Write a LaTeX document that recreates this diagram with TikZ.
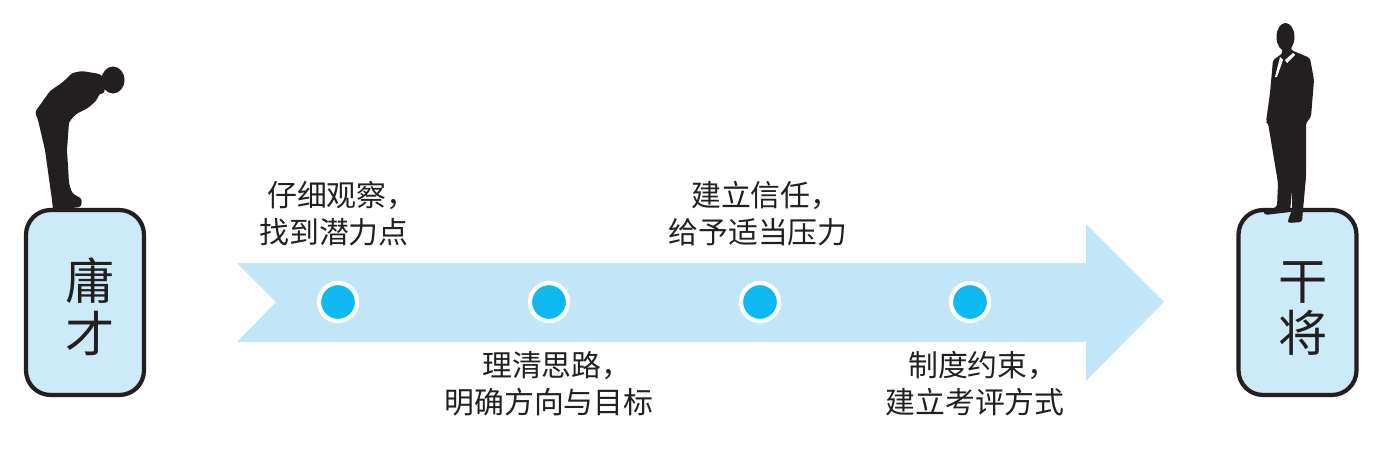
\documentclass[tikz,border=0pt]{standalone}
\usepackage{fontspec}
\setmainfont{Noto Sans CJK SC}
\definecolor{inkblack}{HTML}{231F20}
\definecolor{paleblue}{HTML}{C2E6F8}
\definecolor{boxblue}{HTML}{CDEAF9}
\definecolor{dotblue}{HTML}{0DB9F0}
\newcommand{\narrowcomma}{，\kern-.53em}
\tikzset{
  rankbox/.style={draw=inkblack, line width=2.4pt, fill=boxblue, rounded corners=14pt,
    minimum width=2.36cm, minimum height=3.7cm, inner sep=0pt},
  ranktext/.style={font=\fontsize{28}{30}\selectfont, text=inkblack, align=center, inner sep=0pt},
  steplabel/.style={font=\fontsize{17}{21}\selectfont, text=inkblack, align=center, inner sep=0pt},
  stepdot/.style={circle, draw=white, line width=2.4pt, fill=dotblue, minimum size=.76cm, inner sep=0pt},
  figure/.style={fill=inkblack, draw=none, rounded corners=1.5pt}
}
\begin{document}
\begin{tikzpicture}[x=0.02cm,y=-0.02cm]
\useasboundingbox (0,0) rectangle (1376,467);

% boxes
\node[rankbox] (low) at (85,302.5) {};
\node[rankbox] (high) at (1297.5,302.5) {};
\node[ranktext] (lowtext) at (90,307) {庸\\才};
\node[ranktext] (hightext) at (1303,308.5) {干\\将};

% arrow
\path[fill=paleblue] (237,263) -- (1086,263) -- (1086,224) -- (1164,302) -- (1086,381)
  -- (1086,342) -- (237,342) -- (276,302) -- cycle;

% dots
\node[stepdot] (d1) at (338,302) {};
\node[stepdot] (d2) at (549,302) {};
\node[stepdot] (d3) at (760,302) {};
\node[stepdot] (d4) at (970,302) {};

% labels
\node[steplabel] (l1) at (334,214) {仔细观察\narrowcomma\\找到潜力点};
\node[steplabel] (l2) at (549,384) {理清思路\narrowcomma\\明确方向与目标};
\node[steplabel] (l3) at (758,214) {建立信任\narrowcomma\\给予适当压力};
\node[steplabel] (l4) at (975,384) {制度约束\narrowcomma\\建立考评方式};

% bowing man
\path[figure] (35,112) -- (50,91) -- (63,82) -- (72,73) -- (82,71) -- (100,74) -- (106,80)
  -- (104,94) -- (100,93)
  -- (96,101) -- (88,108) -- (76,114) -- (69,122) -- (67,150) -- (69,183) -- (72,193)
  -- (82,199) -- (81,207) -- (53,210) -- (52,200) -- (45,150) -- (38,120) -- cycle;
\path[figure] (113,80) ellipse (11.5 and 13.5);

% standing man
\path[figure] (1281,46) -- (1291,46) -- (1291,50) -- (1310,58)
  -- (1314,80) -- (1311,117) -- (1306,123) -- (1306,177) -- (1303,210) -- (1302,222)
  -- (1288,223) -- (1288,220) -- (1292,210) -- (1292,190) -- (1290,212) -- (1265,215)
  -- (1263,211) -- (1277,207) -- (1278,183) -- (1268,123) -- (1266,122) -- (1270,93)
  -- (1273,60) -- (1283,53) -- cycle;
\path[figure] (1285.5,37) ellipse (9 and 14);
\path[fill=white] (1280,57) -- (1283,60) -- (1277,77) -- (1275,77) -- cycle;
\path[fill=white] (1285,60) -- (1293,53) -- (1295,55) -- (1287,63) -- cycle;
\end{tikzpicture}
\end{document}
